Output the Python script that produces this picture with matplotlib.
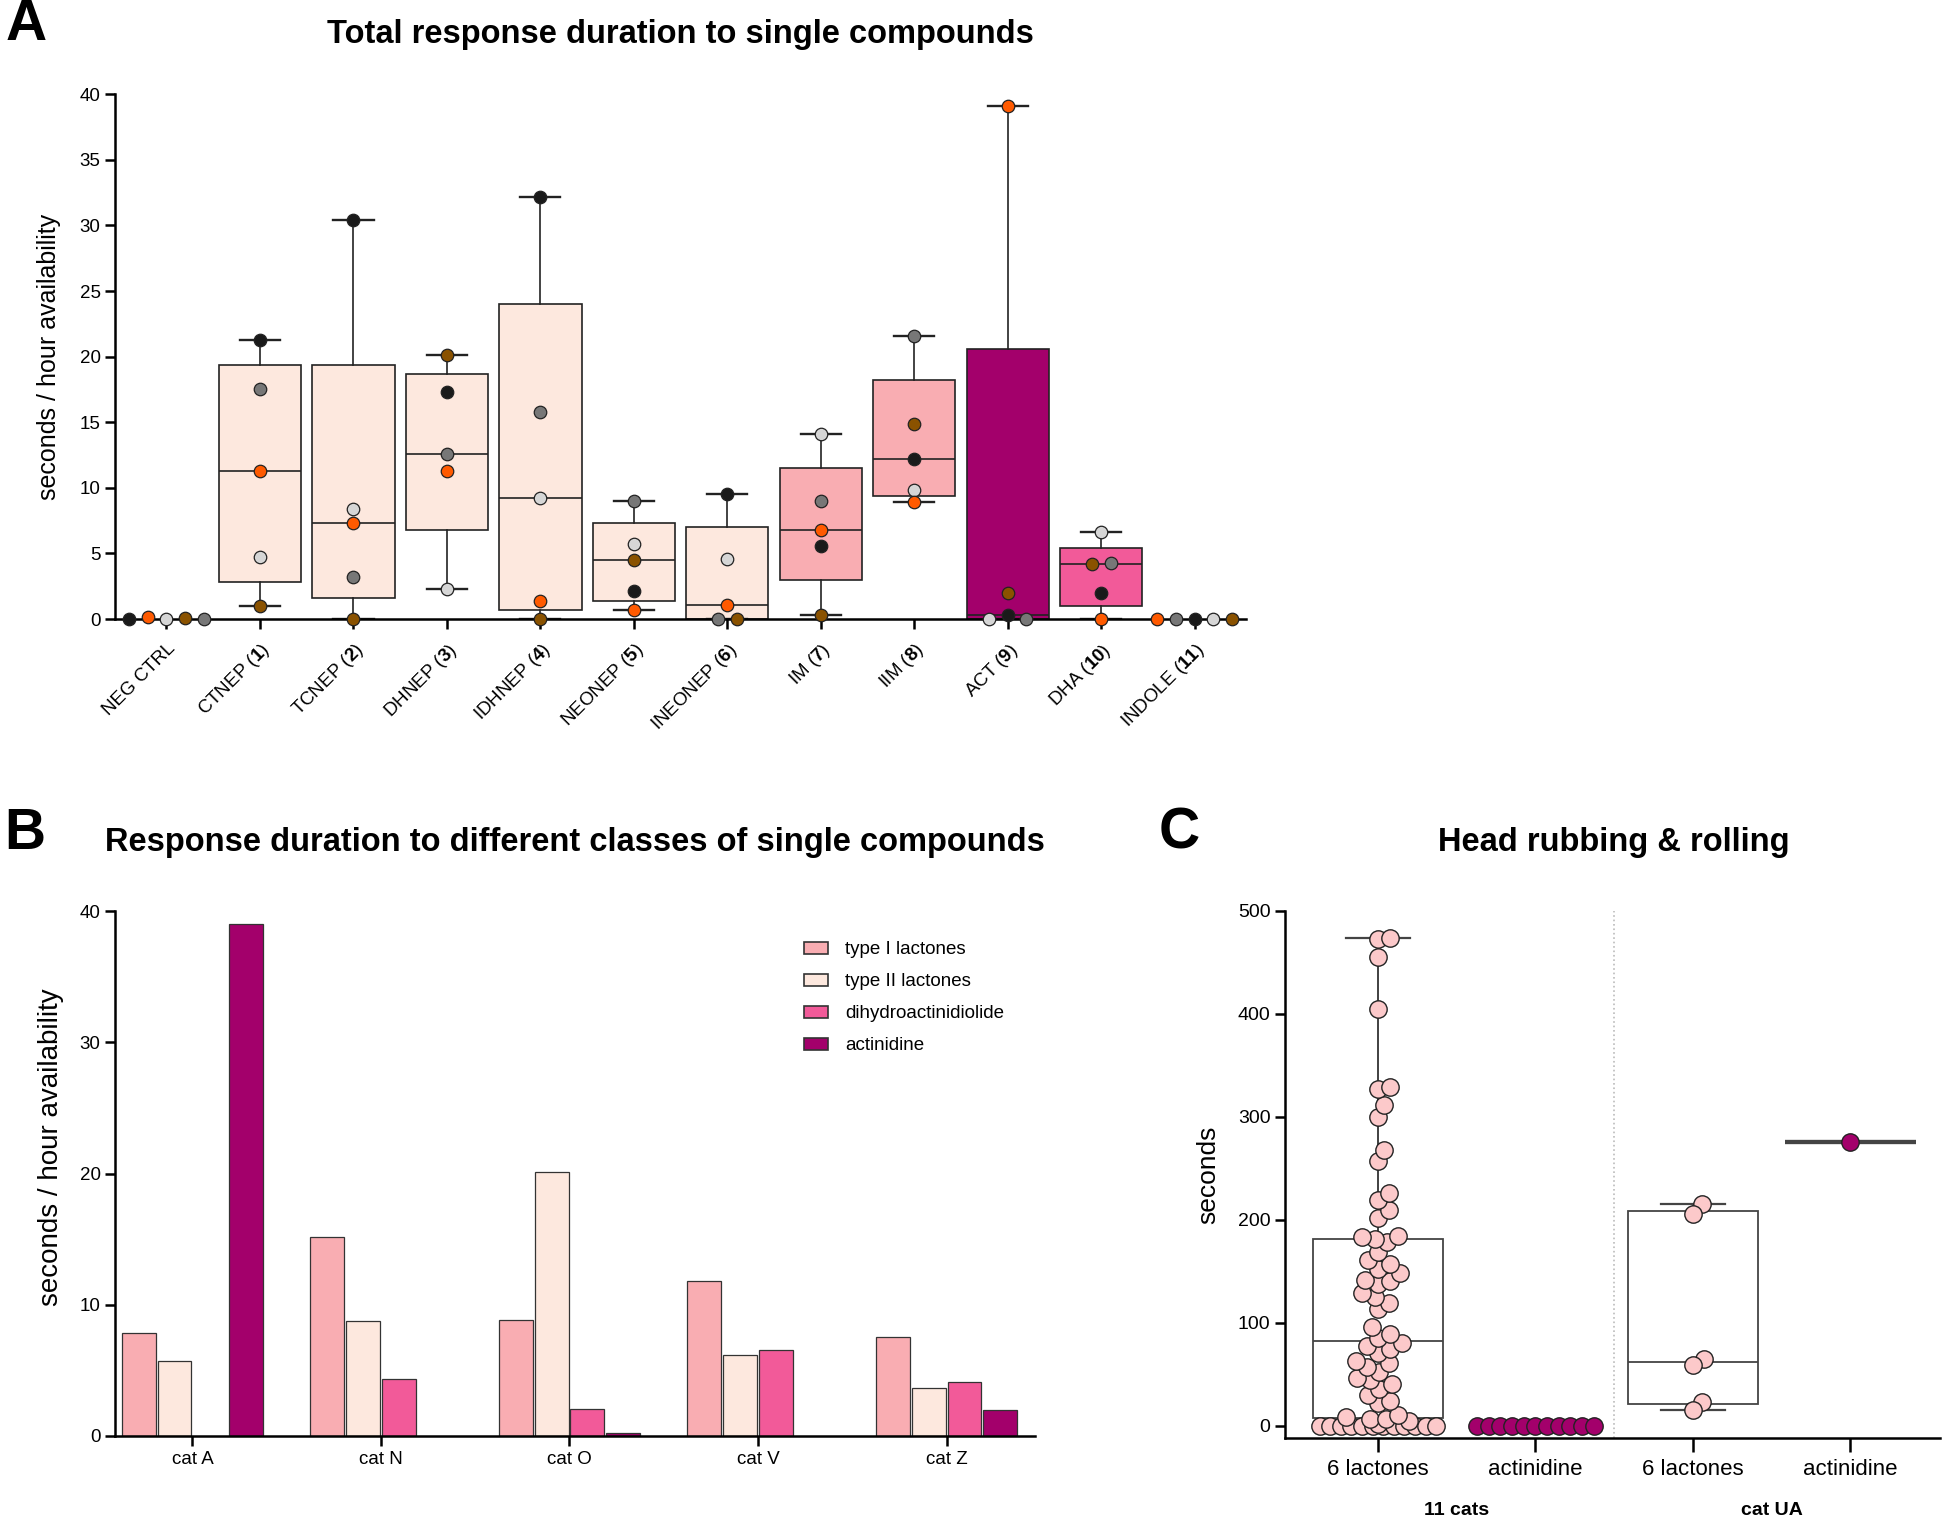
import numpy as np
import matplotlib
matplotlib.use('Agg')
from matplotlib import pyplot as plt
from matplotlib.patches import Patch

plt.rcParams['font.family'] = ['Liberation Sans', 'DejaVu Sans']
plt.rcParams['mathtext.fontset'] = 'custom'
plt.rcParams['mathtext.rm'] = 'Liberation Sans'
plt.rcParams['mathtext.bf'] = 'Liberation Sans:bold'

# ---------------- datos panel A ----------------
# color de cada gato (puntos)
coloresGato = {'A': '#ff5a00', 'N': '#777777', 'O': '#1a1a1a', 'V': '#d6d6d6', 'Z': '#8a5200'}

compuestos = ['NEG CTRL', 'CTNEP', 'TCNEP', 'DHNEP', 'IDHNEP', 'NEONEP',
              'INEONEP', 'IM', 'IIM', 'ACT', 'DHA', 'INDOLE']
numeros = ['', '1', '2', '3', '4', '5', '6', '7', '8', '9', '10', '11']
# orden de los gatos en cada compuesto (izquierda a derecha cuando empatan)
gatosA = ['OAVZN', 'ONAVZ', 'OVANZ', 'ZONAV', 'ONVAZ', 'NVZOA',
          'OVANZ', 'VNAOZ', 'NZOVA', 'AZVON', 'VZNOA', 'ANOVZ']
valoresA = [
    [0, 0.15, 0, 0.1, 0],
    [21.3, 17.5, 11.3, 4.7, 1.0],
    [30.4, 8.4, 7.3, 3.2, 0],
    [20.1, 17.3, 12.6, 11.3, 2.3],
    [32.2, 15.8, 9.2, 1.4, 0],
    [9.0, 5.7, 4.5, 2.1, 0.7],
    [9.5, 4.6, 1.1, 0, 0],
    [14.1, 9.0, 6.8, 5.6, 0.3],
    [21.6, 14.9, 12.2, 9.8, 8.9],
    [39.1, 2.0, 0, 0.3, 0],
    [6.6, 4.2, 4.3, 2.0, 0],
    [0, 0, 0, 0, 0],
]
clasesA = [None, 'II', 'II', 'II', 'II', 'II', 'II', 'I', 'I', 'act', 'dha', None]
colorClase = {'I': '#f9adb2', 'II': '#fde8de', 'dha': '#f25a99', 'act': '#a3006b'}

# ---------------- datos panel B ----------------
gatosB = ['cat A', 'cat N', 'cat O', 'cat V', 'cat Z']
tipoI = [7.85, 15.2, 8.85, 11.85, 7.55]
tipoII = [5.75, 8.75, 20.1, 6.15, 3.65]
dihidro = [np.nan, 4.35, 2.05, 6.55, 4.15]
actinidinaB = [39.0, np.nan, 0.25, np.nan, 1.95]
seriesB = ['type I lactones', 'type II lactones', 'dihydroactinidiolide', 'actinidine']

# ---------------- datos panel C ----------------
lactonas11 = [0, 0, 0, 0, 0, 0, 0, 0, 0, 0, 0, 0, 2, 4, 6, 6,
              8, 10, 22, 24, 30, 36, 40, 44, 46, 52, 57, 61, 63, 71, 74, 77, 80,
              85, 89, 96, 113, 119, 125, 129, 138, 140, 141, 148, 152, 157, 161, 169, 178, 181,
              183, 184, 202, 209, 219, 226, 257, 268, 300, 311, 327, 329, 405, 455, 473, 474]
actinidina11 = [0, 0, 0, 0, 0, 0, 0, 0, 0, 0, 0]
lactonasUA = [215, 206, 65, 59, 23, 15]
actinidinaUA = [276]
etiquetasC = ['6 lactones', 'actinidine', '6 lactones', 'actinidine']
gruposC = ['11 cats', 'cat UA']


def estadisticas(vals):
    # cuartiles como GraphPad (metodo weibull), bigotes min-max
    v = np.asarray(vals, float)
    q1, med, q3 = np.percentile(v, [25, 50, 75], method='weibull')
    return {'med': med, 'q1': q1, 'q3': q3, 'whislo': v.min(), 'whishi': v.max(), 'fliers': []}


def repartir(vals, tol=0.5, paso=0.2):
    # separa horizontalmente los puntos casi iguales, respetando el orden dado
    v = np.asarray(vals, float)
    orden = np.argsort(v, kind='stable')
    off = np.zeros(len(v))
    grupos = [[orden[0]]]
    for i in orden[1:]:
        if v[i] - v[grupos[-1][-1]] < tol:
            grupos[-1].append(i)
        else:
            grupos.append([i])
    for g in grupos:
        g = sorted(g)
        for k, i in enumerate(g):
            off[i] = (k - (len(g) - 1) / 2) * paso
    return off


def enjambre(vals, px_x, px_y, diam, maxEmpate, maxw):
    # beeswarm sencillo en pixeles (los empates exactos se reparten a lo ancho)
    v = np.asarray(vals, float)
    off = np.zeros(len(v))
    hechos = []
    for u in np.unique(v):
        idx = np.where(v == u)[0]
        if len(idx) > 1:
            paso = min(16 / px_x, 2 * maxEmpate / (len(idx) - 1))
            off[idx] = (np.arange(len(idx)) - (len(idx) - 1) / 2) * paso
            hechos.extend(idx.tolist())
    c = np.arange(0.01, maxw + 1e-9, 0.01)
    cands = np.concatenate([[0], np.column_stack([c, -c]).ravel()])
    for i in np.argsort(v, kind='stable'):
        if i in hechos:
            continue
        mejor, mejorD = 0.0, -1.0
        for cand in cands:
            if hechos:
                d = np.min(np.hypot((off[hechos] - cand) * px_x, (v[hechos] - v[i]) * px_y))
            else:
                d = np.inf
            if d >= diam:
                mejor = cand
                break
            if d > mejorD:
                mejor, mejorD = cand, d
        off[i] = mejor
        hechos.append(i)
    return off


def estiloEjes(ax, lw=1.8):
    ax.spines['top'].set_visible(False)
    ax.spines['right'].set_visible(False)
    ax.spines['left'].set_linewidth(lw)
    ax.spines['bottom'].set_linewidth(lw)
    ax.tick_params(length=7, width=lw, color='black')


fig = plt.figure(figsize=(19.44, 15.21), dpi=100)

# ================= panel A =================
axA = fig.add_axes([0.0592, 0.593, 0.5818, 0.345])
for i, vals in enumerate(valoresA):
    if clasesA[i] is not None:
        axA.bxp([estadisticas(vals)], positions=[i], widths=0.88, capwidths=0.43,
                showfliers=False, patch_artist=True,
                boxprops=dict(facecolor=colorClase[clasesA[i]], edgecolor='#222222', linewidth=1.2),
                medianprops=dict(color='#222222', linewidth=1.2),
                whiskerprops=dict(color='#222222', linewidth=1.2),
                capprops=dict(color='#222222', linewidth=1.7))
    off = repartir(vals)
    for v, g, o in zip(vals, gatosA[i], off):
        axA.plot(i + o, v, 'o', ms=9, mfc=coloresGato[g], mec='#222222', mew=0.9,
                 clip_on=False, zorder=5)

axA.set_xlim(-0.55, 11.55)
axA.set_ylim(0, 40)
axA.set_yticks(np.arange(0, 41, 5))
axA.set_xticks(range(len(compuestos)))
etiquetasA = [c if n == '' else c + ' ($\\mathbf{' + n + '}$)' for c, n in zip(compuestos, numeros)]
axA.set_xticklabels(etiquetasA, rotation=45, ha='right', rotation_mode='anchor', fontsize=13.5)
estiloEjes(axA)
axA.tick_params(axis='y', labelsize=13.5)
axA.tick_params(axis='x', pad=8)
axA.set_ylabel('seconds / hour availability', fontsize=18)
axA.yaxis.set_label_coords(-0.048, 0.5)

# ================= panel B =================
axB = fig.add_axes([0.0592, 0.0559, 0.4733, 0.345])
xB = np.arange(len(gatosB))
ancho = 0.18
for j, (serie, col) in enumerate(zip([tipoI, tipoII, dihidro, actinidinaB],
                                     ['#f9adb2', '#fde8de', '#f25a99', '#a3006b'])):
    axB.bar(xB + (j - 1.5) * 0.19, serie, width=ancho, color=col,
            edgecolor='#333333', linewidth=0.9, label=seriesB[j])
axB.set_xlim(-0.41, 4.47)
axB.set_ylim(0, 40)
axB.set_yticks([0, 10, 20, 30, 40])
axB.set_xticks(xB)
axB.set_xticklabels(gatosB)
estiloEjes(axB)
axB.tick_params(labelsize=13.5)
axB.set_ylabel('seconds / hour availability', fontsize=20)
axB.yaxis.set_label_coords(-0.056, 0.55)
manijas = [Patch(facecolor=c, edgecolor='#333333', linewidth=1.2)
           for c in ['#f9adb2', '#fde8de', '#f25a99', '#a3006b']]
axB.legend(manijas, seriesB, loc='upper left', bbox_to_anchor=(0.73, 0.975), frameon=False,
           fontsize=13.5, handlelength=1.3, handleheight=0.6, labelspacing=0.8, handletextpad=0.9)

# ================= panel C =================
axC = fig.add_axes([0.661, 0.0546, 0.337, 0.3465])
datosC = [lactonas11, actinidina11, lactonasUA, actinidinaUA]
colPunto = ['#fcc9ca', '#a3006b', '#fcc9ca', '#a3006b']
for k, vals in enumerate(datosC):
    grueso = 3.0 if len(vals) == 1 else 1.3
    axC.bxp([estadisticas(vals)], positions=[k], widths=0.83, capwidths=0.41,
            showfliers=False, patch_artist=True,
            boxprops=dict(facecolor='white', edgecolor='#444444', linewidth=grueso),
            medianprops=dict(color='#444444', linewidth=grueso),
            whiskerprops=dict(color='#333333', linewidth=1.3),
            capprops=dict(color='#444444', linewidth=1.6))
    off = enjambre(vals, 157, 1.03, 12.5, 0.37, 0.2)
    axC.plot(k + off, vals, 'o', ls='none', ms=12.5, mfc=colPunto[k], mec='#222222', mew=1.0,
             clip_on=False, zorder=5)

axC.axvline(1.5, color='#bbbbbb', ls=':', lw=1.2, zorder=0)
axC.set_xlim(-0.59, 3.57)
axC.set_ylim(-12, 500)
axC.set_yticks(np.arange(0, 501, 100))
axC.set_xticks(range(4))
axC.set_xticklabels(etiquetasC, fontsize=16)
estiloEjes(axC)
axC.tick_params(axis='x', length=10, pad=5)
axC.tick_params(axis='y', labelsize=14)
axC.set_ylabel('seconds', fontsize=19)
axC.yaxis.set_label_coords(-0.098, 0.5)
for x, g in zip([0.5, 2.5], gruposC):
    axC.text(x, -0.1385, g, transform=axC.get_xaxis_transform(), ha='center', va='center',
             fontsize=14, fontweight='bold')

# ================= titulos y letras =================
fig.text(0.350, 0.977, 'Total response duration to single compounds', ha='center', va='center',
         fontsize=23.5, fontweight='bold')
fig.text(0.296, 0.446, 'Response duration to different classes of single compounds', ha='center',
         va='center', fontsize=23.5, fontweight='bold')
fig.text(0.830, 0.446, 'Head rubbing & rolling', ha='center', va='center',
         fontsize=23.5, fontweight='bold')
for x, y, letra in [(0.0134, 0.9836, 'A'), (0.0129, 0.4517, 'B'), (0.6065, 0.4517, 'C')]:
    fig.text(x, y, letra, ha='center', va='center', fontsize=41, fontweight='bold')

fig.savefig('out.png', dpi=100)
